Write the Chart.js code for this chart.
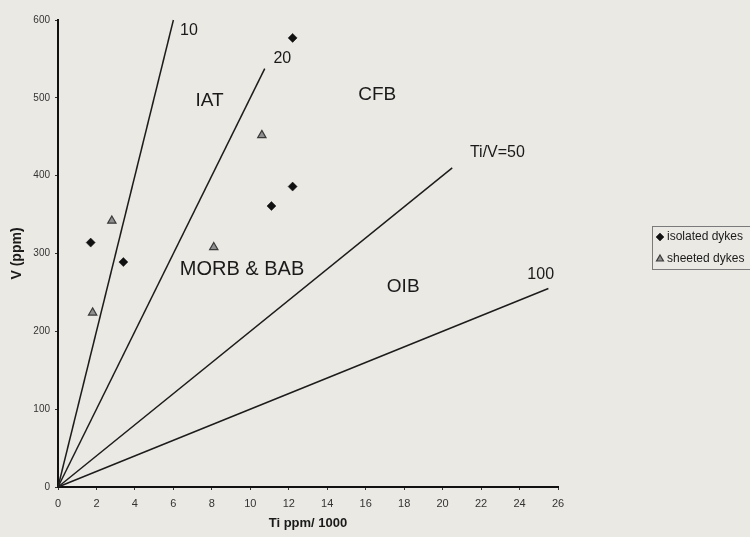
<!DOCTYPE html>
<html>
<head>
<meta charset="utf-8">
<script src="https://cdn.jsdelivr.net/npm/chart.js@4"></script>
<style>
  html, body { margin: 0; padding: 0; background: #ebe9e4; }
  #wrap { width: 750px; height: 537px; position: relative; }
</style>
</head>
<body>
<div id="wrap"><canvas id="ti-v-chart"></canvas></div>
<script>
// isolated dykes (Ti ppm/1000, V ppm)
var isolatedTi = [1.7, 3.4, 11.1, 12.2, 12.2];
var isolatedV = [314, 289, 361, 386, 577];

// sheeted dykes
var sheetedTi = [1.8, 2.8, 8.1, 10.6];
var sheetedV = [224, 342, 308, 452];

// Ti/V ratio lines, drawn from the origin out to these Ti values
var ratios = [10, 20, 50, 100];
var ratioLabels = ['10', '20', 'Ti/V=50', '100'];
var lineEndTi = [6, 10.75, 20.5, 25.5];

var xTicks = [0, 2, 4, 6, 8, 10, 12, 14, 16, 18, 20, 22, 24, 26];
var yTicks = [0, 100, 200, 300, 400, 500, 600];

// field names
var fieldNames = ['IAT', 'CFB', 'MORB & BAB', 'OIB'];

var FONT = '"Liberation Sans", Arial, sans-serif';

function toPoints(xs, ys) {
    return xs.map(function(x, i) { return { x: x, y: ys[i] }; });
}

var datasets = [];
ratios.forEach(function(r, i) {
    datasets.push({
        type: 'line',
        label: ratioLabels[i],
        data: [{ x: 0, y: 0 }, { x: lineEndTi[i], y: lineEndTi[i] * 1000 / r }],
        borderColor: '#1c1c1c',
        borderWidth: 1.5,
        pointRadius: 0,
        fill: false,
        clip: false
    });
});
datasets.push({
    type: 'scatter',
    label: 'isolated dykes',
    data: toPoints(isolatedTi, isolatedV),
    pointStyle: 'rectRot',
    pointRadius: 4.5,
    backgroundColor: '#111',
    borderColor: '#111',
    borderWidth: 0.5,
    clip: false
});
datasets.push({
    type: 'scatter',
    label: 'sheeted dykes',
    data: toPoints(sheetedTi, sheetedV),
    pointStyle: 'triangle',
    pointRadius: 4.8,
    backgroundColor: '#8f8f8f',
    borderColor: '#3a3a3a',
    borderWidth: 1.2,
    clip: false
});

// where the text labels sit, in data units
var ratioLabelPos = [
    { x: 6.35, y: 586, size: 16, align: 'left' },
    { x: 11.2, y: 551, size: 16, align: 'left' },
    { x: 22.85, y: 430, size: 16, align: 'center' },
    { x: 25.1, y: 273, size: 16, align: 'center' }
];
var fieldPos = [
    { x: 7.88, y: 496, size: 19 },
    { x: 16.6, y: 504, size: 19 },
    { x: 9.57, y: 280, size: 20 },
    { x: 17.95, y: 257, size: 19 }
];

var labelPlugin = {
    id: 'fieldLabels',
    afterDatasetsDraw: function(chart) {
        var ctx = chart.ctx, xs = chart.scales.x, ys = chart.scales.y;
        ctx.save();
        ctx.fillStyle = '#1a1a1a';
        ctx.textBaseline = 'middle';
        ratioLabels.forEach(function(t, i) {
            var p = ratioLabelPos[i];
            ctx.font = p.size + 'px ' + FONT;
            ctx.textAlign = p.align;
            ctx.fillText(t, xs.getPixelForValue(p.x), ys.getPixelForValue(p.y));
        });
        fieldNames.forEach(function(t, i) {
            var p = fieldPos[i];
            ctx.font = p.size + 'px ' + FONT;
            ctx.textAlign = 'center';
            ctx.fillText(t, xs.getPixelForValue(p.x), ys.getPixelForValue(p.y));
        });
        ctx.restore();
    }
};

// small boxed legend at the right edge
var legendPlugin = {
    id: 'boxLegend',
    afterDraw: function(chart) {
        var ctx = chart.ctx;
        var left = 652, top = 226, w = 110, h = 43;
        ctx.save();
        ctx.strokeStyle = '#7a7a7a';
        ctx.lineWidth = 1;
        ctx.strokeRect(left + 0.5, top + 0.5, w, h);
        var rows = [datasets[4], datasets[5]];
        rows.forEach(function(ds, i) {
            var cy = top + 11 + i * 22;
            ctx.fillStyle = ds.backgroundColor;
            ctx.strokeStyle = ds.borderColor;
            ctx.lineWidth = ds.borderWidth;
            Chart.helpers.drawPoint(ctx, { pointStyle: ds.pointStyle, radius: 4, rotation: 0, borderWidth: ds.borderWidth }, left + 8, cy);
            ctx.fillStyle = '#1a1a1a';
            ctx.font = '12px ' + FONT;
            ctx.textAlign = 'left';
            ctx.textBaseline = 'middle';
            ctx.fillText(ds.label, left + 15, cy);
        });
        ctx.restore();
    }
};

var ctx = document.getElementById('ti-v-chart').getContext('2d');

var chart = new Chart(ctx, {
    type: 'scatter',
    data: { datasets: datasets },
    plugins: [labelPlugin, legendPlugin],
    options: {
        responsive: true,
        maintainAspectRatio: false,
        animation: false,
        layout: { padding: { left: 0, top: 20, right: 192, bottom: 0 } },
        plugins: {
            legend: { display: false },
            tooltip: { enabled: false }
        },
        scales: {
            x: {
                type: 'linear',
                min: 0,
                max: 26,
                afterBuildTicks: function(scale) {
                    scale.ticks = xTicks.map(function(v) { return { value: v }; });
                },
                afterFit: function(scale) { scale.height = 50; },
                border: { color: '#111', width: 2 },
                grid: { drawOnChartArea: false, drawTicks: true, tickLength: 3, color: '#333' },
                ticks: {
                    color: '#333',
                    padding: 7,
                    maxRotation: 0,
                    autoSkip: false,
                    font: { family: FONT, size: 11 }
                },
                title: {
                    display: true,
                    text: 'Ti ppm/ 1000',
                    color: '#1a1a1a',
                    padding: { top: 6, bottom: 6 },
                    font: { family: FONT, size: 13, weight: 'bold' }
                }
            },
            y: {
                type: 'linear',
                min: 0,
                max: 600,
                afterBuildTicks: function(scale) {
                    scale.ticks = yTicks.map(function(v) { return { value: v }; });
                },
                afterFit: function(scale) { scale.width = 58; },
                border: { color: '#111', width: 2 },
                grid: { drawOnChartArea: false, drawTicks: true, tickLength: 3, color: '#333' },
                ticks: {
                    color: '#333',
                    padding: 5,
                    autoSkip: false,
                    font: { family: FONT, size: 10 }
                },
                title: {
                    display: true,
                    text: 'V (ppm)',
                    color: '#1a1a1a',
                    padding: { top: 9, bottom: 4 },
                    font: { family: FONT, size: 14, weight: 'bold' }
                }
            }
        }
    }
});
</script>
</body>
</html>
